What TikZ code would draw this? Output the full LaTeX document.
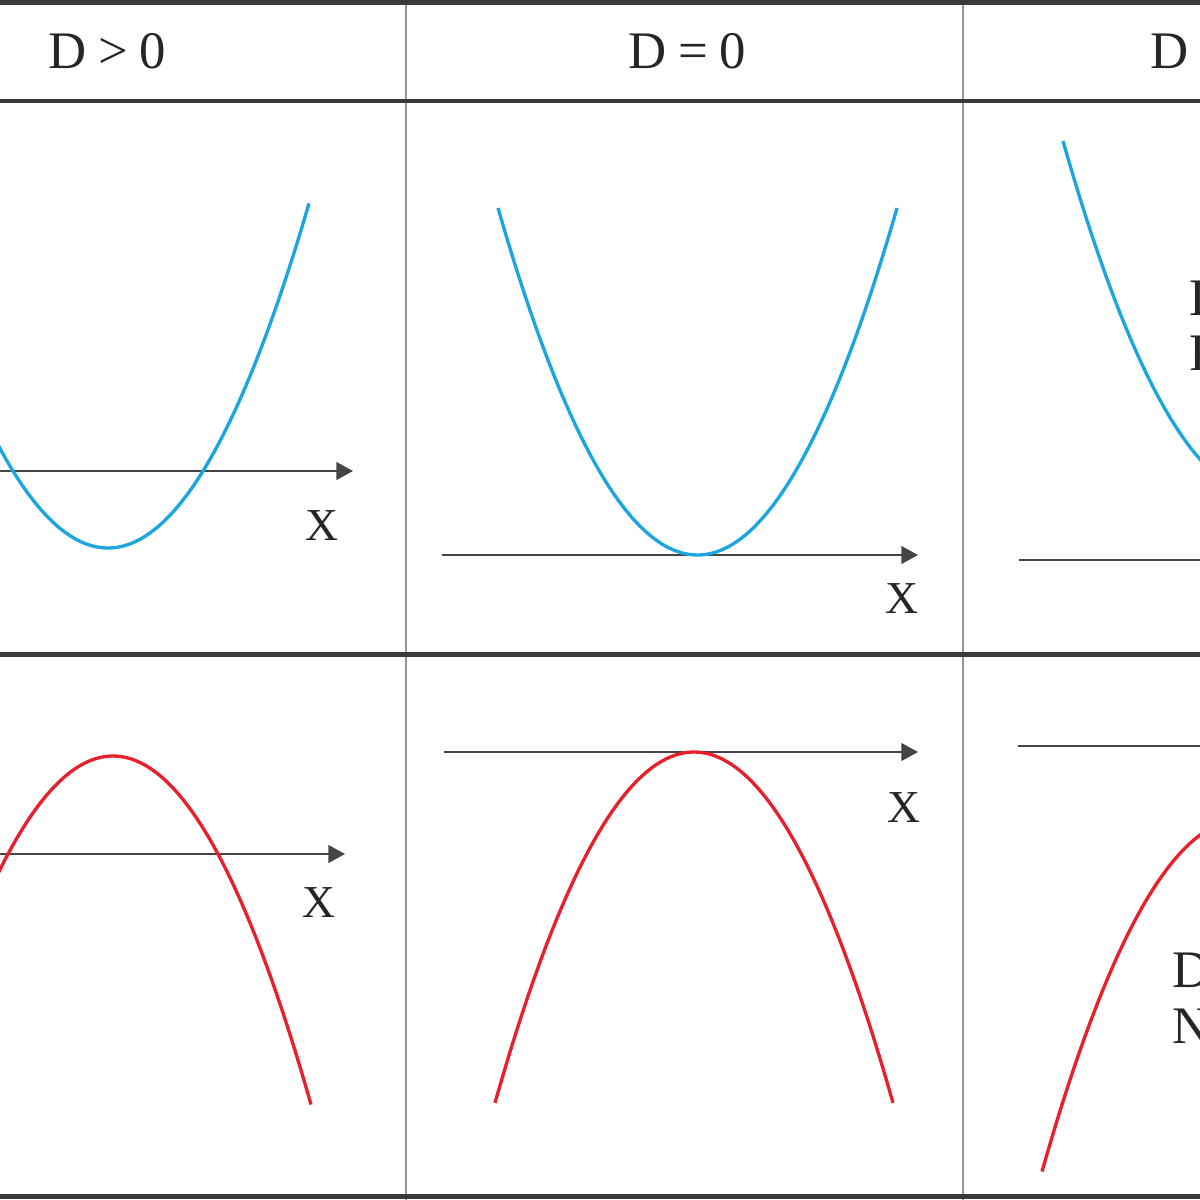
\documentclass[tikz,border=0pt]{standalone}
\usepackage{fontspec}
\setmainfont{Liberation Serif}
\usetikzlibrary{arrows.meta}
\definecolor{curveblue}{HTML}{1BA6E0}
\definecolor{curvered}{HTML}{E6212B}
\definecolor{rulecol}{HTML}{3A3A3A}
\definecolor{thincol}{HTML}{959595}
\definecolor{axiscol}{HTML}{444444}
\begin{document}
\begin{tikzpicture}[x=0.01cm,y=-0.01cm,
  thickrule/.style={draw=rulecol, line width=1.3pt},
  thinrule/.style={draw=thincol, line width=0.6pt},
  axisline/.style={draw=axiscol, line width=0.55pt},
  axisarrow/.style={axisline, -{Triangle[length=4.7pt,width=5pt]}},
  head/.style={font=\fontsize{15}{18}\selectfont, anchor=base west, inner sep=0pt, text=black!85},
  xlab/.style={font=\fontsize{13}{15}\selectfont, anchor=base west, inner sep=0pt, text=black!85},
  note/.style={font=\fontsize{15}{18}\selectfont, anchor=base west, inner sep=0pt, text=black!85},
  upcurve/.style={draw=curveblue, line width=0.95pt},
  downcurve/.style={draw=curvered, line width=0.95pt}]
\useasboundingbox (0,0) rectangle (1200,1200);
\clip (0,0) rectangle (1200,1200);
\fill[white] (0,0) rectangle (1200,1200);

% table rules
\coordinate (v1t) at (406,0);   \coordinate (v1b) at (406,1200);
\coordinate (v2t) at (963,0);   \coordinate (v2b) at (963,1200);
\draw[thinrule] (v1t) -- (v1b);
\draw[thinrule] (v2t) -- (v2b);
\coordinate (h0l) at (-10,2.5);   \coordinate (h0r) at (1210,2.5);
\coordinate (h1l) at (-10,101);   \coordinate (h1r) at (1210,101);
\coordinate (h2l) at (-10,654.5); \coordinate (h2r) at (1210,654.5);
\coordinate (h3l) at (-10,1196.5);\coordinate (h3r) at (1210,1196.5);
\draw[thickrule] (h0l) -- (h0r);
\draw[thickrule] (h1l) -- (h1r);
\draw[thickrule] (h2l) -- (h2r);
\draw[thickrule] (h3l) -- (h3r);

% headers
\node[head] (hA) at (48,68) {D\hspace{0.22em}>\hspace{0.22em}0};
\node[head] (hB) at (628,68) {D\hspace{0.22em}=\hspace{0.22em}0};
\node[head] (hC) at (1150,68) {D\hspace{0.22em}<\hspace{0.22em}0};

% axes
\coordinate (a1s) at (-10,471);  \coordinate (a1e) at (353,471);
\coordinate (a2s) at (442,555);  \coordinate (a2e) at (918,555);
\coordinate (a3s) at (1019,560); \coordinate (a3e) at (1260,560);
\coordinate (a4s) at (-10,854);  \coordinate (a4e) at (345,854);
\coordinate (a5s) at (444,752);  \coordinate (a5e) at (918,752);
\coordinate (a6s) at (1018,746); \coordinate (a6e) at (1260,746);
\draw[axisarrow] (a1s) -- (a1e);
\draw[axisarrow] (a2s) -- (a2e);
\draw[axisline]  (a3s) -- (a3e);
\draw[axisarrow] (a4s) -- (a4e);
\draw[axisarrow] (a5s) -- (a5e);
\draw[axisline]  (a6s) -- (a6e);

% axis labels
\node[xlab] (x1) at (305,540) {X};
\node[xlab] (x2) at (885,613) {X};
\node[xlab] (x4) at (302,917) {X};
\node[xlab] (x5) at (887,822) {X};

% upward parabolas (blue)
\draw[upcurve] plot[domain=-20:309, samples=120] (\x, {548-0.853*((\x-108)/10)^2});
\draw[upcurve] plot[domain=498:897, samples=120] (\x, {555-0.872*((\x-697.5)/10)^2});
\draw[upcurve] plot[domain=1063:1230, samples=100] (\x, {496-0.87*((\x-1265)/10)^2});

% downward parabolas (red)
\draw[downcurve] plot[domain=-20:311, samples=120] (\x, {756+0.889*((\x-113)/10)^2});
\draw[downcurve] plot[domain=495:893, samples=120] (\x, {752+0.886*((\x-694)/10)^2});
\draw[downcurve] plot[domain=1042:1230, samples=100] (\x, {819.5+0.88*((\x-1242)/10)^2});

% side notes (cut by the picture edge, as in the reference)
\node[note] (n1a) at (1189,315) {Definitely};
\node[note] (n1b) at (1189,370) {Positive};
\node[note] (n2a) at (1172,987) {Definitely};
\node[note] (n2b) at (1172,1043) {Negative};
\end{tikzpicture}
\end{document}
